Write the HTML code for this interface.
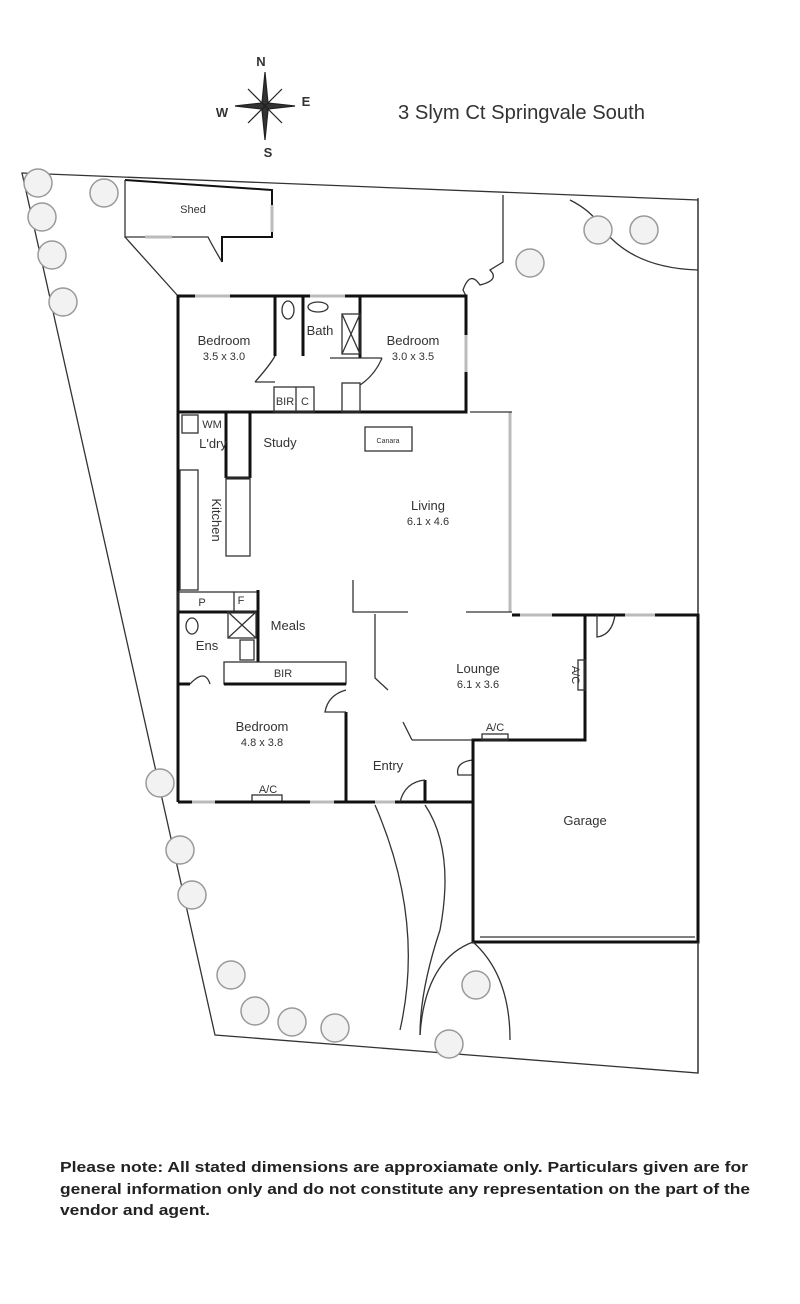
<!DOCTYPE html>
<html><head><meta charset="utf-8"><style>
body{margin:0;background:#fff;}
svg{display:block;font-family:"Liberation Sans",Arial,sans-serif;}
.t{font-size:13px;fill:#333;text-anchor:middle;}
.s{font-size:11px;fill:#333;text-anchor:middle;}
.w{stroke:#111;stroke-width:3;fill:none;}
.l{stroke:#333;stroke-width:1.3;fill:none;}
.g{stroke:#bbb;stroke-width:3;fill:none;}
.tree{fill:#f2f2f2;stroke:#999;stroke-width:1.5;}
</style></head><body>
<svg width="800" height="1304" viewBox="0 0 800 1304">
<!-- compass -->
<g stroke="#222" stroke-width="1.2" fill="#333">
<polygon points="265,72 268,103 265,108 262,103"/>
<polygon points="265,140 268,110 265,106 262,110"/>
<polygon points="235,106 262,103 266,106 262,109"/>
<polygon points="295,106 268,103 264,106 268,109"/>
<line x1="248" y1="89" x2="282" y2="123"/><line x1="282" y1="89" x2="248" y2="123"/>
</g>
<text x="261" y="66" font-size="13" font-weight="bold" fill="#333" text-anchor="middle">N</text>
<text x="222" y="117" font-size="13" font-weight="bold" fill="#333" text-anchor="middle">W</text>
<text x="306" y="106" font-size="13" font-weight="bold" fill="#333" text-anchor="middle">E</text>
<text x="268" y="157" font-size="13" font-weight="bold" fill="#333" text-anchor="middle">S</text>
<text x="398" y="119" font-size="20" fill="#333" textLength="247" lengthAdjust="spacingAndGlyphs">3 Slym Ct Springvale South</text>

<!-- boundary -->
<polygon class="l" points="22,173 698,200 698,1073 215,1035"/>
<!-- shed -->
<polyline class="w" style="stroke-width:2" points="125,180 272,190 272,237 222,237 222,262"/>
<path class="l" d="M222,262 Q212,245 208,237 L125,237 L125,180"/>
<line class="g" x1="145" y1="237" x2="172" y2="237"/>
<line class="g" x1="272" y1="205" x2="272" y2="232"/>
<text class="s" x="193" y="213">Shed</text>
<!-- fences -->
<polyline class="l" points="125,237 178,296"/>
<path class="l" d="M503,195 L503,262 L490,270 Q500,280 480,285 Q470,270 463,290 L466,296"/>
<path class="l" d="M570,200 Q590,210 600,225 Q630,268 698,270"/>
<line class="l" x1="698" y1="198" x2="698" y2="612"/>
<!-- trees -->
<g class="tree">
<circle cx="38" cy="183" r="14"/><circle cx="42" cy="217" r="14"/><circle cx="52" cy="255" r="14"/><circle cx="63" cy="302" r="14"/>
<circle cx="104" cy="193" r="14"/><circle cx="598" cy="230" r="14"/><circle cx="644" cy="230" r="14"/><circle cx="530" cy="263" r="14"/>
<circle cx="160" cy="783" r="14"/><circle cx="180" cy="850" r="14"/><circle cx="192" cy="895" r="14"/><circle cx="231" cy="975" r="14"/>
<circle cx="255" cy="1011" r="14"/><circle cx="292" cy="1022" r="14"/><circle cx="335" cy="1028" r="14"/><circle cx="476" cy="985" r="14"/><circle cx="449" cy="1044" r="14"/>
</g>
<!-- top bedrooms block -->
<rect class="w" x="178" y="296" width="288" height="116"/>
<line class="g" x1="195" y1="296" x2="230" y2="296"/>
<line class="g" x1="310" y1="296" x2="345" y2="296"/>
<line class="g" x1="466" y1="335" x2="466" y2="372"/>
<line class="w" x1="275" y1="296" x2="275" y2="356"/>
<line class="w" x1="303" y1="296" x2="303" y2="356"/>
<line class="w" x1="360" y1="296" x2="360" y2="358"/>
<line class="l" x1="330" y1="358" x2="382" y2="358"/>
<rect class="l" x="342" y="314" width="18" height="40"/>
<path class="l" d="M342,314 L360,354 M360,314 L342,354"/>
<ellipse class="l" cx="288" cy="310" rx="6" ry="9"/><ellipse class="l" cx="318" cy="307" rx="10" ry="5"/>
<rect class="l" x="274" y="387" width="40" height="25"/><line class="l" x1="296" y1="387" x2="296" y2="412"/>
<rect class="l" x="342" y="383" width="18" height="29"/>
<path class="l" d="M255,382 Q270,365 275,356 M255,382 L275,382 M382,358 Q375,375 360,385"/>
<text class="t" x="224" y="345">Bedroom</text><text class="s" x="224" y="360">3.5 x 3.0</text>
<text class="t" x="320" y="335">Bath</text>
<text class="t" x="413" y="345">Bedroom</text><text class="s" x="413" y="360">3.0 x 3.5</text>
<text class="s" x="285" y="405">BIR</text><text class="s" x="305" y="405">C</text>
<!-- living -->
<line class="g" x1="510" y1="412" x2="510" y2="612"/>
<line class="l" x1="470" y1="412" x2="512" y2="412"/>
<rect class="l" x="365" y="427" width="47" height="24"/><text x="388" y="443" font-size="7" fill="#333" text-anchor="middle">Canara</text>
<text class="t" x="280" y="447">Study</text>
<text class="t" x="428" y="510">Living</text><text class="s" x="428" y="525">6.1 x 4.6</text>
<!-- left wall -->
<line class="w" x1="178" y1="412" x2="178" y2="802"/>
<line class="w" x1="250" y1="412" x2="250" y2="478"/>
<line class="w" x1="226" y1="478" x2="250" y2="478"/>
<line class="w" x1="226" y1="412" x2="226" y2="478"/>
<rect class="l" x="226" y="478" width="24" height="78"/>
<rect class="l" x="182" y="415" width="16" height="18"/>
<rect class="l" x="180" y="470" width="18" height="120"/>
<text class="s" x="212" y="428">WM</text><text class="t" x="213" y="448">L'dry</text>
<text class="t" x="212" y="520" transform="rotate(90 212 520)">Kitchen</text>
<!-- P F meals -->
<rect class="l" x="178" y="592" width="56" height="20"/><line class="l" x1="234" y1="592" x2="258" y2="592"/>
<line class="w" x1="178" y1="612" x2="258" y2="612"/><line class="w" x1="258" y1="590" x2="258" y2="662"/>
<rect class="l" x="228" y="612" width="28" height="26"/><path class="l" d="M228,612 L256,638 M256,612 L228,638"/>
<rect class="l" x="240" y="640" width="14" height="20"/>
<text class="s" x="202" y="606">P</text><text class="s" x="241" y="604">F</text>
<text class="t" x="288" y="630">Meals</text><text class="t" x="207" y="650">Ens</text>
<ellipse class="l" cx="192" cy="626" rx="6" ry="8"/>
<line class="w" x1="178" y1="684" x2="190" y2="684"/>
<rect class="l" x="224" y="662" width="122" height="22"/><text class="s" x="283" y="677">BIR</text>
<line class="w" x1="224" y1="684" x2="346" y2="684"/>
<line class="w" x1="346" y1="712" x2="346" y2="802"/>
<path class="l" d="M346,690 Q328,695 325,712 L346,712 M190,684 Q205,668 210,684"/>
<text class="t" x="262" y="731">Bedroom</text><text class="s" x="262" y="746">4.8 x 3.8</text>
<rect class="l" x="252" y="795" width="30" height="7"/><text class="s" x="268" y="793">A/C</text>
<!-- living/lounge partitions -->
<polyline class="l" points="353,580 353,612 408,612"/><line class="l" x1="466" y1="612" x2="512" y2="612"/>
<polyline class="l" points="375,614 375,678 388,690"/><polyline class="l" points="403,722 412,740"/>
<!-- lounge -->
<polyline class="w" points="512,615 585,615 585,740 473,740 473,745"/>
<line class="l" x1="412" y1="740" x2="473" y2="740"/>
<line class="g" x1="520" y1="615" x2="552" y2="615"/>
<rect class="l" x="578" y="660" width="7" height="30"/><text class="s" x="572" y="675" transform="rotate(90 572 675)">A/C</text>
<rect class="l" x="482" y="734" width="26" height="6"/><text class="s" x="495" y="731">A/C</text>
<text class="t" x="478" y="673">Lounge</text><text class="s" x="478" y="688">6.1 x 3.6</text>
<!-- entry -->
<text class="t" x="388" y="770">Entry</text>
<path class="l" d="M473,760 Q455,762 458,775 L473,775"/>
<!-- bottom wall -->
<line class="w" x1="178" y1="802" x2="473" y2="802"/>
<line class="g" x1="192" y1="802" x2="215" y2="802"/><line class="g" x1="310" y1="802" x2="334" y2="802"/><line class="g" x1="375" y1="802" x2="395" y2="802"/>
<line class="w" x1="425" y1="780" x2="425" y2="802"/>
<path class="l" d="M400,802 Q405,782 425,780"/>
<!-- garage -->
<polyline class="w" points="585,615 698,615 698,942 473,942 473,740"/>
<line class="g" x1="625" y1="615" x2="655" y2="615"/>
<path class="l" d="M597,615 L597,637 Q612,635 615,615"/>
<line class="l" x1="480" y1="937" x2="695" y2="937"/>
<text class="t" x="585" y="825">Garage</text>
<!-- driveway paths -->
<path class="l" d="M375,805 Q425,920 400,1030"/>
<path class="l" d="M425,805 Q455,850 440,930 Q420,990 420,1035"/>
<path class="l" d="M473,942 Q425,960 420,1035 M473,942 Q510,975 510,1040"/>
<line class="l" x1="698" y1="942" x2="698" y2="1073"/>
<!-- note -->
<text font-size="15" font-weight="bold" fill="#222">
<tspan x="60" y="1172" textLength="688" lengthAdjust="spacingAndGlyphs">Please note:  All stated dimensions are approxiamate only. Particulars given are for</tspan>
<tspan x="60" y="1194" textLength="690" lengthAdjust="spacingAndGlyphs">general information only and do not constitute any representation on the part of the</tspan>
<tspan x="60" y="1215" textLength="150" lengthAdjust="spacingAndGlyphs">vendor and agent.</tspan></text>
</svg>
</body></html>
